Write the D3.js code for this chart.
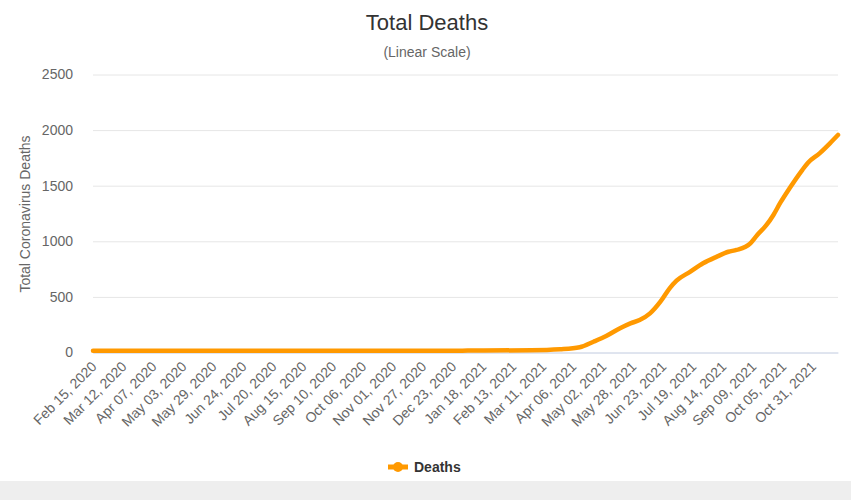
<!DOCTYPE html>
<html>
<head>
<meta charset="utf-8">
<script src="https://cdn.jsdelivr.net/npm/d3@7"></script>
<style>
  body { margin: 0; background: #fff; }
  svg { display: block; font-family: "Liberation Sans", Arial, sans-serif; }
</style>
</head>
<body>
<svg id="chart" width="851" height="500"></svg>
<script>
// values
const dates = ["2020-02-15", "2020-12-25", "2021-01-05", "2021-03-01", "2021-03-26",
  "2021-04-12", "2021-04-24", "2021-05-05", "2021-05-17", "2021-05-26", "2021-06-03",
  "2021-06-12", "2021-06-21", "2021-06-29", "2021-07-05", "2021-07-17", "2021-07-28",
  "2021-08-09", "2021-08-19", "2021-08-26", "2021-09-07", "2021-09-13", "2021-09-21",
  "2021-09-27", "2021-10-03", "2021-10-11", "2021-10-22", "2021-10-27", "2021-11-06",
  "2021-11-15", "2021-11-22"];
const deaths = [15, 15, 17, 20, 29, 47, 97, 148, 218, 262, 292, 352, 457, 577, 646,
  727, 802, 862, 906, 922, 982, 1057, 1147, 1237, 1347, 1477, 1641, 1707, 1791, 1881, 1956];

const tickLabels = ["Feb 15, 2020", "Mar 12, 2020", "Apr 07, 2020", "May 03, 2020",
  "May 29, 2020", "Jun 24, 2020", "Jul 20, 2020", "Aug 15, 2020", "Sep 10, 2020",
  "Oct 06, 2020", "Nov 01, 2020", "Nov 27, 2020", "Dec 23, 2020", "Jan 18, 2021",
  "Feb 13, 2021", "Mar 11, 2021", "Apr 06, 2021", "May 02, 2021", "May 28, 2021",
  "Jun 23, 2021", "Jul 19, 2021", "Aug 14, 2021", "Sep 09, 2021", "Oct 05, 2021",
  "Oct 31, 2021"];
const yTicks = [0, 500, 1000, 1500, 2000, 2500];

const parseDay = d3.utcParse("%Y-%m-%d");
const parseLabel = d3.utcParse("%b %d, %Y");
const fmtLabel = d3.utcFormat("%b %d, %Y");

const data = dates.map((d, i) => ({ date: parseDay(d), value: deaths[i] }));

const svg = d3.select("#chart");
const plotLeft = 93, plotRight = 838, plotTop = 74.5, plotBottom = 352.5;

const x = d3.scaleUtc()
  .domain([parseDay("2020-02-15"), parseDay("2021-11-22")])
  .range([plotLeft, plotRight]);
const y = d3.scaleLinear().domain([0, 2500]).range([plotBottom, plotTop]);

// page background strip under the chart
svg.append("rect").attr("x", 0).attr("y", 481).attr("width", 851).attr("height", 19)
  .attr("fill", "#eeeeee");

// y axis + grid
const yAxis = svg.append("g")
  .attr("transform", `translate(${plotLeft},0)`)
  .call(d3.axisLeft(y).tickValues(yTicks).tickFormat(d3.format("d"))
    .tickSize(-(plotRight - plotLeft)).tickPadding(20));
yAxis.select(".domain").remove();
yAxis.selectAll(".tick line").attr("stroke", "#e6e6e6");
yAxis.selectAll(".tick text")
  .attr("fill", "#666").attr("font-size", 14).attr("font-family", null);

// x axis
const xAxis = svg.append("g")
  .attr("transform", `translate(0,${plotBottom})`)
  .call(d3.axisBottom(x).tickValues(tickLabels.map(parseLabel))
    .tickFormat(fmtLabel).tickSize(0));
xAxis.select(".domain").attr("stroke", "#ccd6eb");
xAxis.selectAll(".tick text")
  .attr("fill", "#666").attr("font-size", 14).attr("font-family", null)
  .attr("text-anchor", "end")
  .attr("dy", null).attr("y", 0)
  .attr("transform", "translate(4,15) rotate(-45)");

// line
const line = d3.line()
  .x(d => x(d.date))
  .y(d => y(d.value))
  .curve(d3.curveMonotoneX);

svg.append("path")
  .datum(data)
  .attr("fill", "none")
  .attr("stroke", "#ff9900")
  .attr("stroke-width", 4.5)
  .attr("stroke-linejoin", "round")
  .attr("stroke-linecap", "round")
  .attr("d", line);

// titles
svg.append("text").attr("x", 427).attr("y", 30).attr("text-anchor", "middle")
  .attr("font-size", 22).attr("fill", "#333").text("Total Deaths");
svg.append("text").attr("x", 427).attr("y", 57).attr("text-anchor", "middle")
  .attr("font-size", 14).attr("fill", "#666").text("(Linear Scale)");
svg.append("text").attr("transform", "translate(30,214) rotate(-90)")
  .attr("text-anchor", "middle").attr("font-size", 14).attr("fill", "#666")
  .text("Total Coronavirus Deaths");

// legend
const lg = svg.append("g").attr("transform", "translate(388,467)");
lg.append("line").attr("x1", 0).attr("x2", 20).attr("y1", 0).attr("y2", 0)
  .attr("stroke", "#ff9900").attr("stroke-width", 5);
lg.append("circle").attr("cx", 10).attr("cy", 0).attr("r", 5).attr("fill", "#ff9900");
lg.append("text").attr("x", 26).attr("y", 5).attr("font-size", 14)
  .attr("font-weight", "bold").attr("fill", "#333").text("Deaths");
</script>
</body>
</html>
